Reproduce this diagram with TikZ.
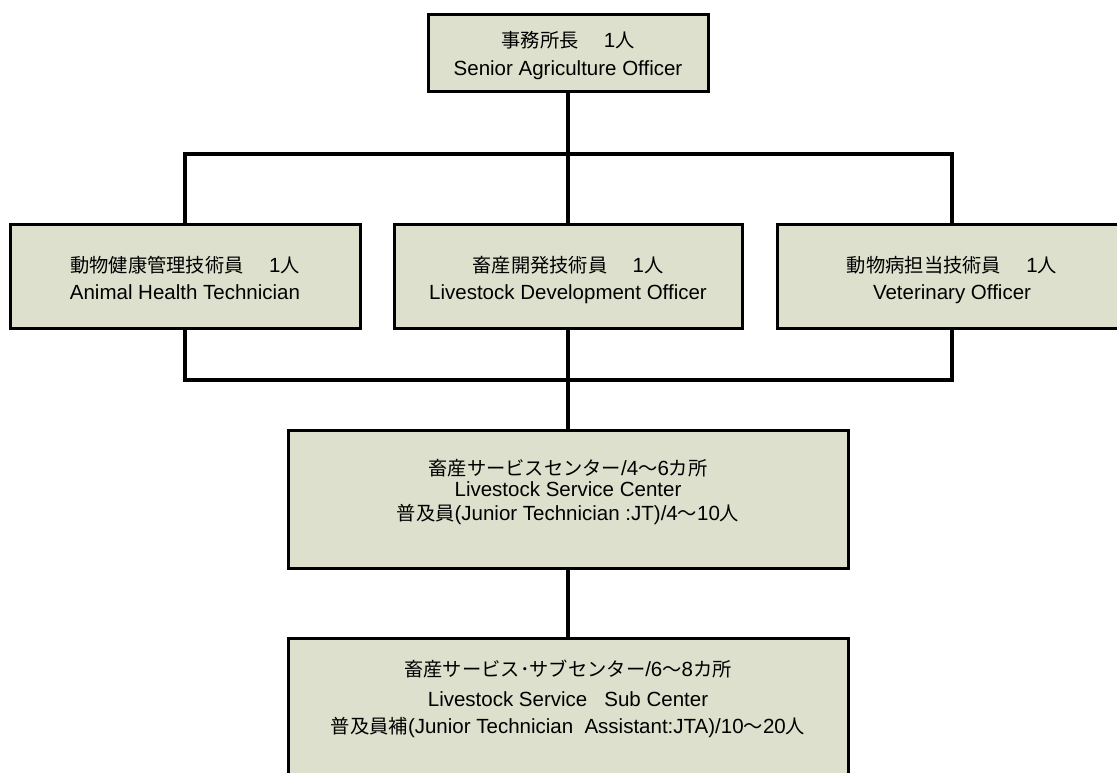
\documentclass[tikz,border=0pt]{standalone}
\usepackage{fontspec}
\setmainfont{Liberation Sans}
\newfontfamily\jpfont{Noto Sans CJK JP}[Scale=0.94]
\newcommand\J[1]{{\jpfont #1}}
\newcommand\gap{\J{　}\hspace{6pt}}
\definecolor{boxfill}{RGB}{221,224,204}
\begin{document}
\begin{tikzpicture}[x=1pt,y=-1pt,
  box/.style={draw=black, fill=boxfill, line width=3pt, inner sep=0pt, rectangle},
  txt/.style={anchor=base, inner sep=0pt, font=\fontsize{20.5}{24}\selectfont},
  conn/.style={draw=black, line width=3.2pt}]
\useasboundingbox (0,0) rectangle (1117,772);
\clip (0,0) rectangle (1117,772);
\fill[white] (0,0) rectangle (1117,772);
% boxes
\node[box, minimum width=280pt, minimum height=77pt] (top) at (568,52.5) {};
\node[box, minimum width=350pt, minimum height=104pt] (left) at (185,276) {};
\node[box, minimum width=348pt, minimum height=104pt] (mid) at (568,276) {};
\node[box, minimum width=350pt, minimum height=104pt] (right) at (952,276) {};
\node[box, minimum width=560pt, minimum height=138pt] (svc) at (568,499) {};
\node[box, minimum width=560pt, minimum height=160pt] (sub) at (568,718) {};
% connectors
\coordinate (j1) at (568,154);
\coordinate (j2) at (568,380);
\draw[conn] (top.south) -- (mid.north);
\draw[conn] (left.north) |- (j1) -| (right.north);
\draw[conn] (left.south) |- (j2) -| (right.south);
\draw[conn] (mid.south) -- (svc.north);
\draw[conn] (svc.south) -- (sub.north);
% texts
\node[txt] (topa) at (568,47) {\J{事務所長}\gap 1\J{人}};
\node[txt] (topb) at (568,75) {Senior Agriculture Officer};
\node[txt] (lefta) at (185,272) {\J{動物健康管理技術員}\gap 1\J{人}};
\node[txt] (leftb) at (185,299) {Animal Health Technician};
\node[txt] (mida) at (568,272) {\J{畜産開発技術員}\gap 1\J{人}};
\node[txt] (midb) at (568,299) {Livestock Development Officer};
\node[txt] (righta) at (952,272) {\J{動物病担当技術員}\gap 1\J{人}};
\node[txt] (rightb) at (952,299) {Veterinary Officer};
\node[txt] (svca) at (568,475) {\J{畜産サービスセンター}/4\J{〜}6\J{カ所}};
\node[txt] (svcb) at (568,496) {Livestock Service Center};
\node[txt] (svcc) at (568,520) {\J{普及員}(Junior Technician :JT)/4\J{〜}10\J{人}};
\node[txt] (suba) at (568,676) {\J{畜産サービス･サブセンター}/6\J{〜}8\J{カ所}};
\node[txt] (subb) at (568,706) {Livestock Service\ \ \ Sub Center};
\node[txt] (subc) at (568,733) {\J{普及員補}(Junior Technician\ \ Assistant:JTA)/10\J{〜}20\J{人}};
\end{tikzpicture}
\end{document}
